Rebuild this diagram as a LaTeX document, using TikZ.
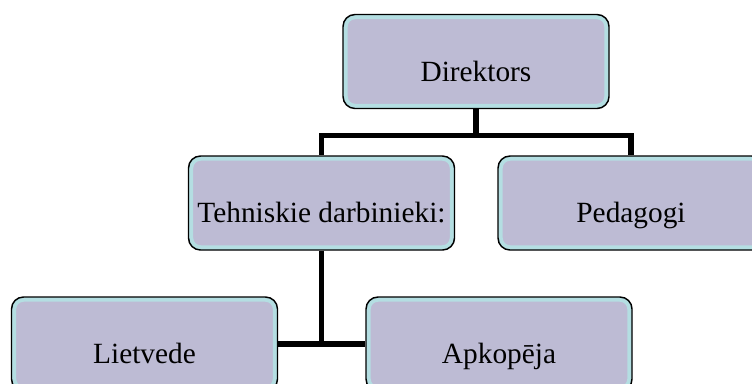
\documentclass[tikz,border=0pt]{standalone}
\usepackage{fontspec}
\setmainfont{Liberation Serif}
\definecolor{boxfill}{RGB}{189,187,212}
\definecolor{boxrim}{RGB}{180,222,226}
\tikzset{
  orgbox/.style={rectangle, rounded corners=9pt, draw=black, line width=1.1pt,
    fill=boxfill, minimum width=199.5pt, minimum height=70.5pt, inner sep=1pt,
    text height=29.5pt, text depth=0pt,
    font=\fontsize{22}{26}\selectfont,
    path picture={\draw[boxrim, line width=7pt, rounded corners=9pt]
      (path picture bounding box.south west) rectangle (path picture bounding box.north east);}},
  link/.style={draw=black, line width=3.8pt, line join=miter}
}
\begin{document}
\begin{tikzpicture}[x=0.75pt, y=-0.75pt]
\useasboundingbox (0,0) rectangle (752,383);
\clip (0,0) rectangle (752,383);
\node[orgbox] (dir) at (476,61.5) {Direktors};
\node[orgbox] (teh) at (321.5,203) {Tehniskie darbinieki:};
\node[orgbox] (ped) at (631,203) {Pedagogi};
\node[orgbox] (lie) at (144.5,344) {Lietvede};
\node[orgbox] (apk) at (499,344) {Apkopēja};
\draw[link] (dir.south) -- ++(0,26) -| (teh.north);
\draw[link] (dir.south) -- ++(0,26) -| (ped.north);
\draw[link] (teh.south) -- (teh.south |- lie.east);
\draw[link] (lie.east) -- (apk.west);
\end{tikzpicture}
\end{document}
